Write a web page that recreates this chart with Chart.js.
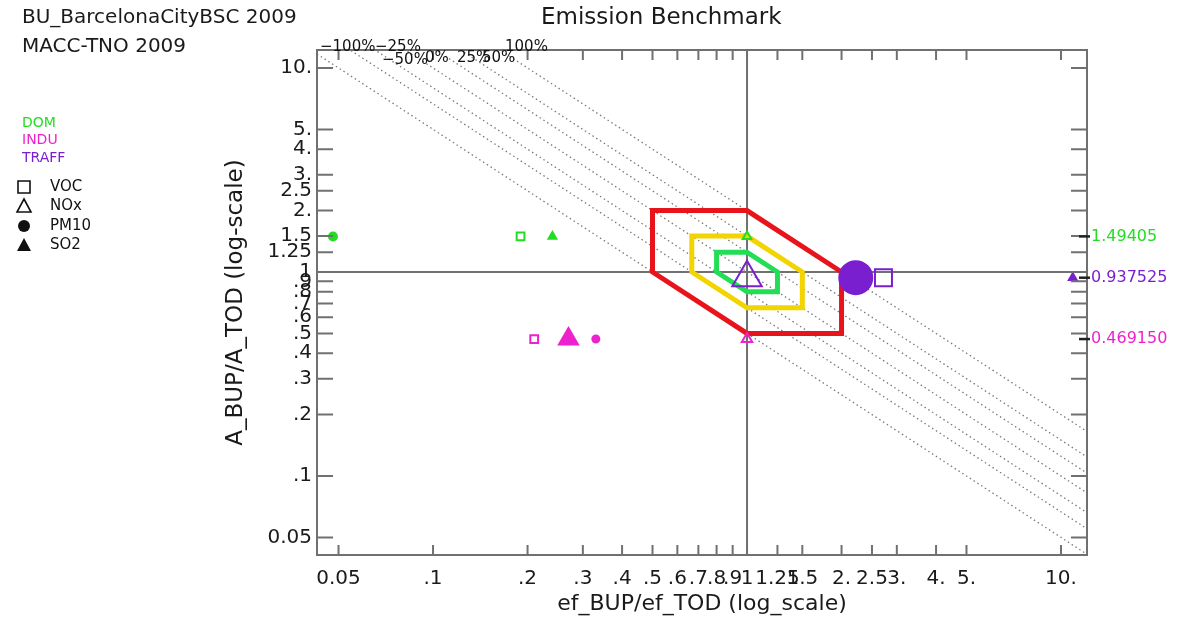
<!DOCTYPE html>
<html>
<head>
<meta charset="utf-8">
<title>Emission Benchmark</title>
<script src="https://cdn.jsdelivr.net/npm/chart.js@4.4.0/dist/chart.umd.min.js"></script>
<style>
  html, body { margin: 0; padding: 0; background: #fff; }
  #wrap { width: 1178px; height: 621px; position: relative; }
</style>
</head>
<body>
<div id="wrap"><canvas id="bench" width="1178" height="621"></canvas></div>
<script>
// sectors / pollutants
const sectors = ["DOM", "INDU", "TRAFF"];
const pollutants = ["VOC", "NOx", "PM10", "SO2"];

// A_BUP/A_TOD for each sector (printed on the right too)
const areaRatio = [1.49405, 0.469150, 0.937525];

// ef_BUP/ef_TOD, order VOC, NOx, PM10, SO2
const efDOM = [0.19, 1.0, 0.048, 0.24];
const efINDU = [0.21, 1.0, 0.33, 0.27];
const efTRAFF = [2.72, 1.0, 2.22, 10.9];

// benchmark hexagons
const band100 = [[0.5, 2], [1, 2], [2, 1], [2, 0.5], [1, 0.5], [0.5, 1]];
const band50 = [[0.667, 1.5], [1, 1.5], [1.5, 1], [1.5, 0.667], [1, 0.667], [0.667, 1]];
const band25 = [[0.8, 1.25], [1, 1.25], [1.25, 1], [1.25, 0.8], [1, 0.8], [0.8, 1]];

// dotted lines x*y = level
const isoLevels = [0.5, 0.667, 0.8, 1, 1.25, 1.5, 2];

const xTicks = [0.05, 0.1, 0.2, 0.3, 0.4, 0.5, 0.6, 0.7, 0.8, 0.9, 1, 1.25, 1.5, 2, 2.5, 3, 4, 5, 10];
const xTickLabels = ["0.05", ".1", ".2", ".3", ".4", ".5", ".6", ".7", ".8", ".9", "1", "1.25", "1.5", "2.", "2.5", "3.", "4.", "5.", "10."];
const yTicks = [0.05, 0.1, 0.2, 0.3, 0.4, 0.5, 0.6, 0.7, 0.8, 0.9, 1, 1.25, 1.5, 2, 2.5, 3, 4, 5, 10];
const yTickLabels = ["0.05", ".1", ".2", ".3", ".4", ".5", ".6", ".7", ".8", ".9", "1", "1.25", "1.5", "2.", "2.5", "3.", "4.", "5.", "10."];

// styles
const FONT = "'DejaVu Sans', sans-serif";
const sectorColors = ["#22dd22", "#ee22cc", "#7a1fd0"];
const markerStyle = ["rect", "triangle", "circle", "triangle"];
const markerFilled = [false, false, true, true];
const markerRadius = [
  [5.5, 5, 4, 4.5],
  [5.5, 6, 3.5, 11],
  [12, 17, 16.5, 4.5]
];
const AXIS_GREY = "#707070";

function sectorSet(i, xs) {
  return {
    label: sectors[i],
    data: xs.map(x => ({ x: x, y: areaRatio[i] })),
    pointStyle: markerStyle,
    pointRadius: markerRadius[i],
    pointHoverRadius: markerRadius[i],
    pointBorderWidth: 2,
    pointBorderColor: sectorColors[i],
    pointBackgroundColor: markerFilled.map(f => f ? sectorColors[i] : "rgba(0,0,0,0)"),
    showLine: false,
    order: 1
  };
}

function bandSet(pts, color) {
  return {
    label: "band",
    data: pts.concat([pts[0]]).map(p => ({ x: p[0], y: p[1] })),
    showLine: true,
    borderColor: color,
    borderWidth: 5,
    borderJoinStyle: "miter",
    borderCapStyle: "square",
    pointRadius: 0,
    pointHoverRadius: 0,
    fill: false,
    tension: 0,
    order: 2
  };
}

const benchPlugin = {
  id: "bench",
  beforeDatasetsDraw(chart) {
    const { ctx, chartArea: a, scales: { x, y } } = chart;
    ctx.save();
    ctx.beginPath();
    ctx.rect(a.left, a.top, a.right - a.left, a.bottom - a.top);
    ctx.clip();
    // dotted iso lines
    ctx.strokeStyle = "#7a7a7a";
    ctx.lineWidth = 1.3;
    ctx.setLineDash([1.5, 3]);
    isoLevels.forEach(c => {
      ctx.beginPath();
      ctx.moveTo(x.getPixelForValue(x.min), y.getPixelForValue(c / x.min));
      ctx.lineTo(x.getPixelForValue(x.max), y.getPixelForValue(c / x.max));
      ctx.stroke();
    });
    ctx.setLineDash([]);
    // cross at 1,1
    ctx.strokeStyle = AXIS_GREY;
    ctx.lineWidth = 2;
    ctx.beginPath();
    ctx.moveTo(x.getPixelForValue(1), a.top);
    ctx.lineTo(x.getPixelForValue(1), a.bottom);
    ctx.moveTo(a.left, y.getPixelForValue(1));
    ctx.lineTo(a.right, y.getPixelForValue(1));
    ctx.stroke();
    ctx.restore();
  },
  afterDatasetsDraw(chart) {
    const { ctx, chartArea: a, scales: { x, y } } = chart;
    ctx.save();
    ctx.strokeStyle = AXIS_GREY;
    ctx.lineWidth = 2;
    ctx.strokeRect(a.left, a.top, a.right - a.left, a.bottom - a.top);
    ctx.beginPath();
    xTicks.forEach(v => {
      const px = x.getPixelForValue(v);
      ctx.moveTo(px, a.bottom); ctx.lineTo(px, a.bottom - 10);
      ctx.moveTo(px, a.top); ctx.lineTo(px, a.top + 10);
    });
    yTicks.forEach(v => {
      const py = y.getPixelForValue(v);
      ctx.moveTo(a.left, py); ctx.lineTo(a.left + 16, py);
      ctx.moveTo(a.right, py); ctx.lineTo(a.right - 16, py);
    });
    ctx.stroke();

    // sector ratios on the right
    ctx.font = "16px " + FONT;
    ctx.textBaseline = "middle";
    ctx.textAlign = "left";
    areaRatio.forEach((r, i) => {
      const py = y.getPixelForValue(r);
      ctx.strokeStyle = "#222";
      ctx.lineWidth = 2.5;
      ctx.beginPath();
      ctx.moveTo(a.right - 8, py); ctx.lineTo(a.right + 3, py);
      ctx.stroke();
      ctx.fillStyle = sectorColors[i];
      ctx.fillText(r.toPrecision(6), a.right + 4, py);
    });

    // percent labels of the dotted lines
    ctx.fillStyle = "#111";
    ctx.font = "15px " + FONT;
    ctx.textBaseline = "alphabetic";
    ctx.fillText("\u2212100%", 320, 51);
    ctx.fillText("\u221225%", 375, 51);
    ctx.fillText("100%", 505, 51);
    ctx.fillText("\u221250%", 382, 64);
    ctx.fillText("0%", 425, 62);
    ctx.fillText("25%", 457, 62);
    ctx.fillText("50%", 482, 62);
    ctx.restore();
  },
  afterDraw(chart) {
    const { ctx } = chart;
    ctx.save();
    ctx.fillStyle = "#1a1a1a";
    ctx.textBaseline = "middle";
    ctx.textAlign = "left";
    ctx.font = "20px " + FONT;
    ctx.fillText("BU_BarcelonaCityBSC 2009", 22, 18);
    ctx.fillText("MACC-TNO 2009", 22, 47);
    ctx.font = "23px " + FONT;
    ctx.fillText("Emission Benchmark", 541, 18);

    // sector legend
    ctx.font = "14px " + FONT;
    const sy = [123, 140, 158];
    sectors.forEach((s, i) => {
      ctx.fillStyle = sectorColors[i];
      ctx.fillText(s, 22, sy[i]);
    });

    // pollutant legend
    const py = [187, 206, 226, 245];
    ctx.font = "15px " + FONT;
    ctx.fillStyle = "#111";
    ctx.strokeStyle = "#111";
    ctx.lineWidth = 1.6;
    pollutants.forEach((p, i) => {
      const cx = 24, cy = py[i];
      ctx.beginPath();
      if (markerStyle[i] === "rect") {
        ctx.rect(cx - 6, cy - 6, 12, 12);
      } else if (markerStyle[i] === "circle") {
        ctx.arc(cx, cy, 6, 0, Math.PI * 2);
      } else {
        ctx.moveTo(cx, cy - 7);
        ctx.lineTo(cx + 7, cy + 6);
        ctx.lineTo(cx - 7, cy + 6);
        ctx.closePath();
      }
      if (markerFilled[i]) ctx.fill(); else ctx.stroke();
      ctx.fillText(p, 50, cy);
    });
    ctx.restore();
  }
};

new Chart(document.getElementById("bench"), {
  type: "scatter",
  data: {
    datasets: [
      sectorSet(0, efDOM),
      sectorSet(1, efINDU),
      sectorSet(2, efTRAFF),
      bandSet(band25, "#22dd55"),
      bandSet(band50, "#f2d400"),
      bandSet(band100, "#e8141c")
    ]
  },
  options: {
    responsive: false,
    animation: false,
    events: [],
    layout: { padding: { left: 220, right: 91, top: 50, bottom: 0 } },
    plugins: { legend: { display: false }, tooltip: { enabled: false }, title: { display: false } },
    scales: {
      x: {
        type: "logarithmic",
        min: 0.0427,
        max: 12.1,
        afterBuildTicks: ax => { ax.ticks = xTicks.map(v => ({ value: v })); },
        afterFit: ax => { ax.height = 66; },
        grid: { display: false, drawTicks: false },
        border: { display: false },
        ticks: {
          autoSkip: false, maxRotation: 0, minRotation: 0, padding: 12,
          color: "#1a1a1a", font: { family: FONT, size: 20 },
          callback: (v, i) => xTickLabels[i]
        },
        title: {
          display: true, text: "ef_BUP/ef_TOD (log_scale)", color: "#1a1a1a",
          font: { family: FONT, size: 22 }, padding: { top: 0, bottom: 4 }
        }
      },
      y: {
        type: "logarithmic",
        min: 0.041,
        max: 12.25,
        afterBuildTicks: ax => { ax.ticks = yTicks.map(v => ({ value: v })); },
        afterFit: ax => { ax.width = 97; },
        grid: { display: false, drawTicks: false },
        border: { display: false },
        ticks: {
          autoSkip: false, padding: 5,
          color: "#1a1a1a", font: { family: FONT, size: 20 },
          callback: (v, i) => yTickLabels[i]
        },
        title: {
          display: true, text: "A_BUP/A_TOD (log-scale)", color: "#1a1a1a",
          font: { family: FONT, size: 23 }, padding: { top: 2, bottom: 0 }
        }
      }
    }
  },
  plugins: [benchPlugin]
});
</script>
</body>
</html>
